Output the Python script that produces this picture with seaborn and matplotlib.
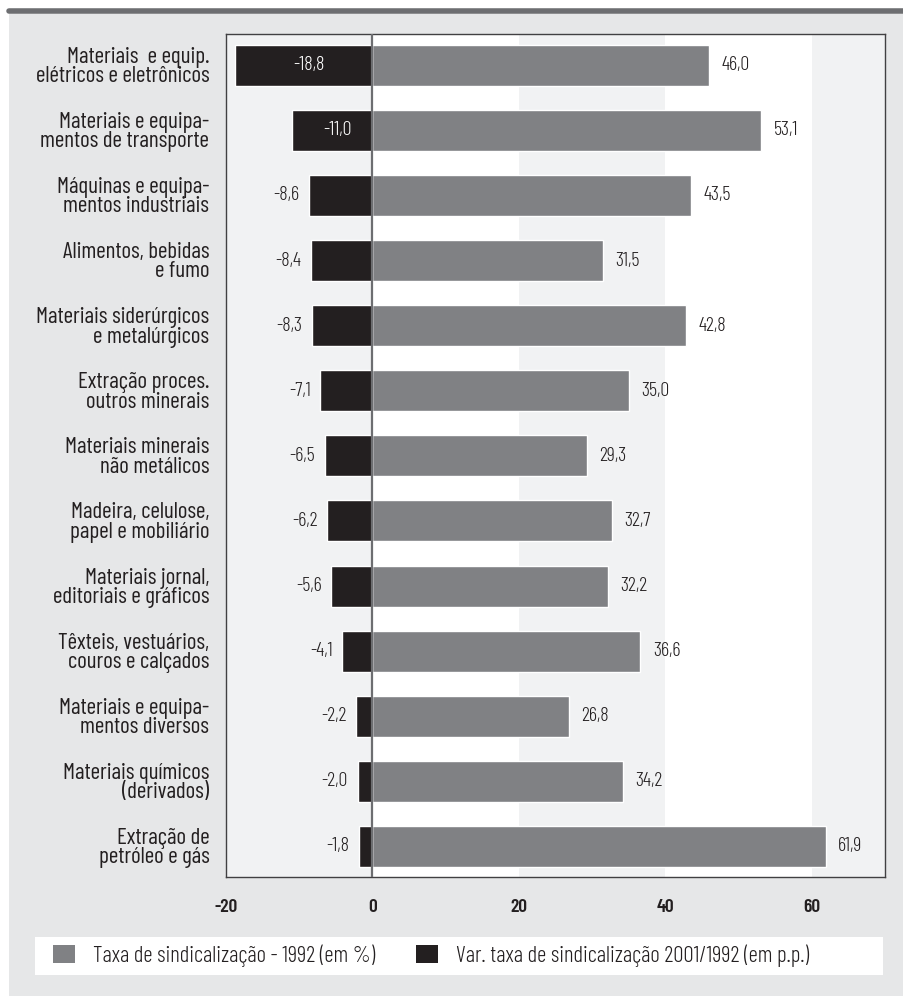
import matplotlib
matplotlib.use("Agg")
import matplotlib.pyplot as plt
import seaborn as sns
import pandas as pd
from matplotlib.patches import Rectangle, Patch
from matplotlib.lines import Line2D

categories = [
    "Materiais  e equip.\nelétricos e eletrônicos",
    "Materiais e equipa-\nmentos de transporte",
    "Máquinas e equipa-\nmentos industriais",
    "Alimentos, bebidas\ne fumo",
    "Materiais siderúrgicos\ne metalúrgicos",
    "Extração proces.\noutros minerais",
    "Materiais minerais\nnão metálicos",
    "Madeira, celulose,\npapel e mobiliário",
    "Materiais jornal,\neditoriais e gráficos",
    "Têxteis, vestuários,\ncouros e calçados",
    "Materiais e equipa-\nmentos diversos",
    "Materiais químicos\n(derivados)",
    "Extração de\npetróleo e gás",
]
taxa_1992 = [46.0, 53.1, 43.5, 31.5, 42.8, 35.0, 29.3, 32.7, 32.2, 36.6, 26.8, 34.2, 61.9]
var_2001_1992 = [-18.8, -11.0, -8.6, -8.4, -8.3, -7.1, -6.5, -6.2, -5.6, -4.1, -2.2, -2.0, -1.8]
x_ticks = [-20, 0, 20, 40, 60]
legend_labels = ["Taxa de sindicalização - 1992 (em %)",
                 "Var. taxa de sindicalização 2001/1992 (em p.p.)"]

GRAY = "#808184"
BLACK = "#231f20"
BAND = "#f1f2f3"
BG = "#e6e7e8"
TXT = "#231f20"

sns.set_theme(style="white")
FONT = ["Barlow Condensed", "DejaVu Sans"]
plt.rcParams["font.family"] = FONT

df = pd.DataFrame({"cat": categories, "taxa": taxa_1992, "var": var_2001_1992})

fig = plt.figure(figsize=(9.04, 9.96), dpi=100)
fig.patch.set_facecolor("white")
fig.patches.append(Rectangle((9 / 904, 0), 1, (996 - 14) / 996, transform=fig.transFigure,
                             facecolor=BG, edgecolor="none", zorder=-10))
fig.lines.append(Line2D([9 / 904, 1], [1 - 11.5 / 996, 1 - 11.5 / 996], transform=fig.transFigure,
                        color="#6d6e71", lw=4, zorder=-5))

ax = fig.add_axes([226 / 904, 119 / 996, 659 / 904, 843 / 996])
ax.set_facecolor("white")
for a, b in [(-20, 0), (20, 40), (60, 80)]:
    ax.axvspan(a, b, color=BAND, zorder=0, lw=0)

sns.barplot(data=df, y="cat", x="taxa", color=GRAY, width=0.63, ax=ax,
            saturation=1, zorder=2, orient="h")
sns.barplot(data=df, y="cat", x="var", color=BLACK, width=0.63, ax=ax,
            saturation=1, zorder=2, orient="h")

ax.axvline(0, color="#6d6e71", lw=1.6, zorder=4)

ax.set_xlim(-20, 70)
ax.set_ylim(12.47, -0.48)
ax.set_xticks(x_ticks)
ax.set_xticklabels([str(t) for t in x_ticks], fontsize=14, fontweight=600, color=TXT)
ax.tick_params(axis="x", length=0, pad=16)
ax.tick_params(axis="y", length=0, pad=12)
ax.set_yticks(range(len(categories)))
ax.set_yticklabels(categories, fontsize=16.6, color=TXT, linespacing=0.9, ha="right")
ax.set_xlabel("")
ax.set_ylabel("")
for s in ax.spines.values():
    s.set_color("#414042")
    s.set_linewidth(1.0)
    s.set_visible(True)

def fmt(v):
    return f"{v:.1f}".replace(".", ",")

for i, (t, v) in enumerate(zip(taxa_1992, var_2001_1992)):
    ax.annotate(fmt(t), (t, i), xytext=(9, 0), textcoords="offset points",
                ha="left", va="center", fontsize=14.5, fontweight=300, color=TXT, zorder=5)
    if v <= -10:
        ax.annotate(fmt(v), (v / 2, i), xytext=(4, 0), textcoords="offset points",
                    ha="center", va="center", fontsize=14.5, fontweight=300, color="white", zorder=5)
    else:
        ax.annotate(fmt(v), (v, i), xytext=(-7, 0), textcoords="offset points",
                    ha="right", va="center", fontsize=14.5, fontweight=300, color=TXT, zorder=5)

# legend
fig.patches.append(Rectangle((35 / 904, 1 - 975 / 996), (883 - 35) / 904, 38 / 996,
                             transform=fig.transFigure, facecolor="white",
                             edgecolor="none", zorder=-4))
handles = [Patch(facecolor=GRAY, edgecolor="none"), Patch(facecolor=BLACK, edgecolor="none")]
fig.legend(handles, legend_labels, loc="center left",
           bbox_to_anchor=(53 / 904, 1 - 956 / 996), ncol=2, frameon=False,
           prop={"size": 16.5, "weight": 300}, handlelength=0.96, handleheight=0.83,
           handletextpad=0.8, columnspacing=1.75, borderaxespad=0, borderpad=0,
           labelcolor=TXT)

fig.savefig("out.png", dpi=100, facecolor=fig.get_facecolor())
